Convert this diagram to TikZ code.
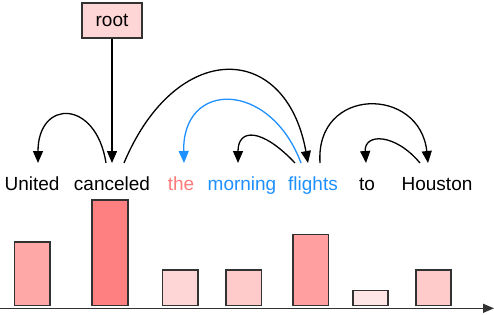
\documentclass[tikz,border=0pt]{standalone}
\usepackage{fontspec}
\setmainfont{Liberation Sans}
\usetikzlibrary{arrows.meta}
\definecolor{EdgeGray}{RGB}{50,50,50}
\definecolor{RootFill}{RGB}{255,214,214}
\definecolor{DetRed}{RGB}{255,122,122}
\definecolor{FocusBlue}{RGB}{30,144,255}
\tikzset{
  word/.style={anchor=base,inner xsep=0pt,inner ysep=13pt,outer sep=0pt,text height=14pt,text depth=4pt,font=\fontsize{19}{22}\selectfont},
  rootbox/.style={draw=EdgeGray,fill=RootFill,line width=1.2pt,minimum width=60pt,minimum height=35pt,font=\fontsize{19}{22}\selectfont},
  dep/.style={-{Triangle[length=12pt,width=10pt]},line width=1.3pt,draw=black},
  bluedep/.style={-{Triangle[length=12pt,width=10pt]},line width=1.3pt,draw=FocusBlue},
  bar/.style={draw=EdgeGray,line width=1.2pt},
  axis/.style={-{Triangle[length=11pt,width=9pt]},line width=1.3pt,draw=EdgeGray}
}
\begin{document}
\begin{tikzpicture}[x=1pt,y=-1pt]
\useasboundingbox (0,0) rectangle (494,314);
\node[rootbox] (root) at (112,20.5) {root};

\node[word] (united) at (32,190) {United};
\node[word] (canceled) at (112,190) {canceled};
\node[word,text=DetRed] (the) at (181,190) {the};
\node[word,text=FocusBlue] (morning) at (242,190) {morning};
\node[word,text=FocusBlue] (flights) at (313,190) {flights};
\node[word] (to) at (367,190) {to};
\node[word] (houston) at (437,190) {Houston};

\draw[dep](root.south)--(canceled.north);
\draw[dep]([xshift=-6pt]canceled.north) .. controls +(-10,-64) and +(0,-64) .. ([xshift=6pt]united.north);
\draw[dep]([xshift=12pt]canceled.north) .. controls +(52,-124) and +(-22,-122) .. ([xshift=-5pt]flights.north);
\draw[bluedep]([xshift=-12pt]flights.north) .. controls +(-31,-83) and +(-2,-83) .. ([xshift=3pt]the.north);
\draw[dep]([xshift=-18pt]flights.north) .. controls +(-33,-35) and +(0,-35) .. ([xshift=-4pt]morning.north);
\draw[dep]([xshift=7pt]flights.north) .. controls +(-5,-77) and +(-8,-77) .. ([xshift=-9pt]houston.north);
\draw[dep]([xshift=-17pt]houston.north) .. controls +(-25,-30) and +(-2,-30) .. ([xshift=-1pt]to.north);

% attention bars
\draw[bar,fill={rgb,255:red,255;green,168;blue,168}] (14.7,242) rectangle (50,305.5);
\draw[bar,fill={rgb,255:red,255;green,128;blue,128}] (92,200) rectangle (128,305.5);
\draw[bar,fill={rgb,255:red,255;green,214;blue,214}] (162.7,270) rectangle (198,305.5);
\draw[bar,fill={rgb,255:red,255;green,202;blue,202}] (226,270) rectangle (261.3,305.5);
\draw[bar,fill={rgb,255:red,255;green,159;blue,159}] (293,234.7) rectangle (328.3,305.5);
\draw[bar,fill={rgb,255:red,255;green,230;blue,230}] (353,290.7) rectangle (388,305.5);
\draw[bar,fill={rgb,255:red,255;green,202;blue,202}] (416,270) rectangle (451,305.5);
\coordinate (axisstart) at (0,308.3);
\coordinate (axisend) at (494,308.3);
\draw[axis](axisstart)--(axisend);
\end{tikzpicture}
\end{document}
